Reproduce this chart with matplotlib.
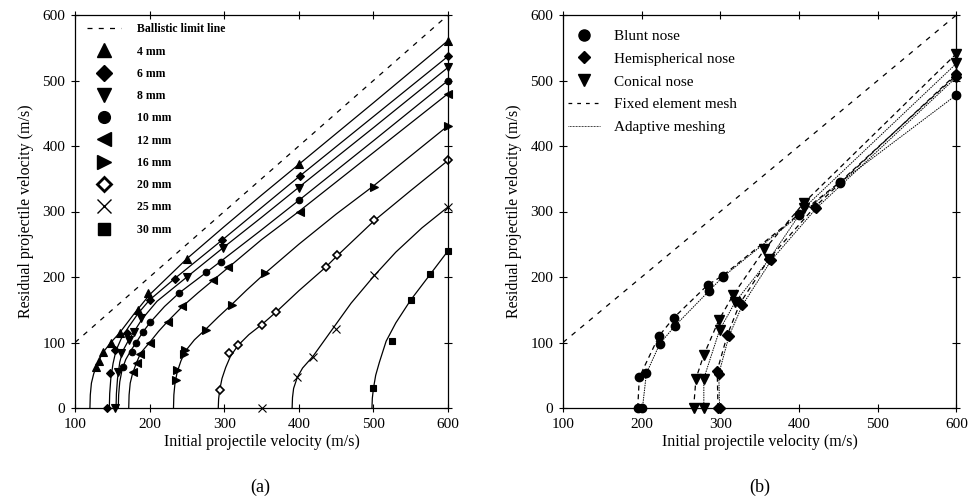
import numpy as np
import matplotlib
matplotlib.use("Agg")
import matplotlib.pyplot as plt
from matplotlib.lines import Line2D

plt.rcParams['font.family'] = ['Liberation Serif', 'DejaVu Serif']

# ---- (a) plate thickness, markers
labels_a = ['4 mm', '6 mm', '8 mm', '10 mm', '12 mm', '16 mm', '20 mm', '25 mm', '30 mm']

m4_x = [128, 132, 137, 148, 160, 184, 198, 250, 400, 600]
m4_y = [63, 72, 85, 100, 114, 150, 175, 227, 372, 560]
m6_x = [143, 147, 154, 170, 200, 234, 297, 401, 600]
m6_y = [0, 53, 88, 115, 165, 197, 257, 354, 537]
m8_x = [153, 157, 162, 172, 179, 189, 250, 298, 400, 600]
m8_y = [0, 55, 84, 104, 116, 137, 200, 244, 336, 520]
m10_x = [165, 176, 182, 191, 201, 240, 276, 296, 400, 600]
m10_y = [62, 85, 100, 116, 132, 176, 207, 223, 317, 500]
m12_x = [178, 183, 187, 200, 224, 244, 285, 305, 401, 600]
m12_y = [55, 68, 83, 100, 132, 155, 195, 215, 300, 480]
m16_x = [235, 237, 246, 248, 275, 310, 355, 501, 600]
m16_y = [43, 58, 82, 88, 119, 158, 206, 338, 430]
m20_x = [294, 306, 318, 351, 370, 436, 451, 501, 600]
m20_y = [28, 84, 96, 127, 147, 216, 234, 287, 378]
m25_x = [350, 398, 419, 450, 501, 600]
m25_y = [0, 47, 78, 121, 203, 307]
m30_x = [500, 525, 550, 576, 600]
m30_y = [30, 102, 165, 204, 240]

# fitted curves, points
c4_x = [120, 120.5, 122, 125, 130, 137, 148, 160, 180, 200, 250, 300, 350, 400, 500, 600]
c4_y = [0, 20, 38, 52, 68, 84, 100, 115, 145, 173, 228, 277, 325, 372, 466, 561]
c6_x = [146, 146.5, 148, 151, 155, 162, 172, 185, 200, 234, 260, 300, 350, 400, 500, 600]
c6_y = [0, 22, 45, 68, 88, 106, 124, 145, 165, 198, 222, 259, 306, 353, 445, 537]
c8_x = [155, 155.5, 157, 160, 164, 172, 180, 190, 210, 250, 300, 350, 400, 500, 600]
c8_y = [0, 22, 45, 70, 87, 104, 118, 136, 163, 200, 246, 291, 337, 428, 520]
c10_x = [158, 158.5, 160, 163, 168, 175, 182, 191, 201, 220, 240, 276, 300, 350, 400, 500, 600]
c10_y = [0, 20, 40, 58, 74, 88, 100, 116, 131, 155, 176, 207, 228, 272, 317, 408, 500]
c12_x = [172, 172.5, 174, 177, 182, 188, 200, 212, 224, 244, 265, 285, 305, 350, 400, 500, 600]
c12_y = [0, 20, 38, 52, 68, 84, 100, 117, 132, 155, 176, 195, 214, 257, 300, 390, 480]
c16_x = [232, 232.5, 234, 237, 242, 248, 260, 275, 292, 310, 330, 355, 400, 450, 500, 550, 600]
c16_y = [0, 20, 38, 55, 72, 87, 104, 120, 139, 158, 180, 206, 250, 296, 339, 385, 431]
c20_x = [292, 292.5, 294, 297, 302, 308, 318, 333, 351, 370, 400, 436, 451, 501, 550, 600]
c20_y = [0, 14, 28, 45, 62, 78, 95, 112, 128, 147, 179, 215, 232, 286, 332, 378]
c25_x = [391, 391.5, 393, 398, 405, 419, 441, 470, 501, 530, 565, 600]
c25_y = [0, 16, 30, 47, 61, 79, 114, 160, 202, 238, 275, 307]
c30_x = [498, 498.5, 500, 503, 508, 517, 530, 550, 576, 600]
c30_y = [0, 15, 30, 50, 70, 102, 130, 165, 204, 240]

# ---- (b) nose shapes, fixed mesh / adaptive meshing
blunt_fix_x = [195, 197, 222, 241, 284, 303, 400, 452, 600]
blunt_fix_y = [0, 47, 110, 138, 188, 202, 296, 345, 508]
blunt_ada_x = [201, 206, 223, 242, 285, 303, 400, 452, 600]
blunt_ada_y = [0, 53, 98, 125, 178, 200, 294, 344, 478]
hemi_fix_x = [297, 296, 309, 325, 362, 420, 600]
hemi_fix_y = [0, 57, 112, 160, 228, 307, 510]
hemi_ada_x = [299, 298, 311, 328, 365, 422, 600]
hemi_ada_y = [0, 52, 110, 157, 226, 305, 505]
cone_fix_x = [266, 269, 279, 298, 316, 356, 406, 600]
cone_fix_y = [0, 45, 81, 134, 172, 242, 313, 541]
cone_ada_x = [279, 279, 299, 319, 362, 406, 600]
cone_ada_y = [0, 45, 119, 162, 227, 305, 526]

limit_x = [100, 600]
limit_y = [100, 600]

fig = plt.figure(figsize=(9.69, 5.0), dpi=100)
ax1 = fig.add_axes([0.0774, 0.184, 0.385, 0.786])
ax2 = fig.add_axes([0.581, 0.184, 0.406, 0.786])

lw = 0.9
ms = 5.5
ax1.plot(limit_x, limit_y, color='k', lw=lw, linestyle=(0, (4, 5)))
curves = [(c4_x, c4_y), (c6_x, c6_y), (c8_x, c8_y), (c10_x, c10_y), (c12_x, c12_y),
          (c16_x, c16_y), (c20_x, c20_y), (c25_x, c25_y), (c30_x, c30_y)]
for cx, cy in curves:
    ax1.plot(cx, cy, color='k', lw=lw)

mk = [(m4_x, m4_y, '^', 'k', ms), (m6_x, m6_y, 'D', 'k', ms - 1.2), (m8_x, m8_y, 'v', 'k', ms),
      (m10_x, m10_y, 'o', 'k', ms - 0.8), (m12_x, m12_y, '<', 'k', ms), (m16_x, m16_y, '>', 'k', ms),
      (m20_x, m20_y, 'D', 'w', ms - 1.4), (m25_x, m25_y, 'x', 'k', ms), (m30_x, m30_y, 's', 'k', ms - 1)]
for (x, y, m, fc, s) in mk:
    ax1.plot(x, y, linestyle='none', marker=m, markersize=s, markerfacecolor=fc,
             markeredgecolor='k', markeredgewidth=1.2 if fc == 'w' else 0.8, clip_on=False)

handles_a = [Line2D([], [], color='k', lw=lw, linestyle=(0, (4, 5)))]
for (x, y, m, fc, s) in mk:
    handles_a.append(Line2D([], [], linestyle='none', marker=m, markersize=s * 1.8,
                            markerfacecolor=fc, markeredgecolor='k',
                            markeredgewidth=2.0 if fc == 'w' else 1.0))
leg1 = ax1.legend(handles_a, ['Ballistic limit line'] + labels_a, loc='upper left',
                  bbox_to_anchor=(0.01, 1.0), frameon=False, prop={'size': 8.5, 'weight': 'bold'},
                  labelspacing=0.87, handlelength=2.9, handletextpad=1.3, borderaxespad=0.3)

# right panel
ax2.plot(limit_x, limit_y, color='k', lw=lw, linestyle=(0, (4, 5)))
fix_ls = (0, (4, 3))
ada_ls = (0, (1.5, 1))
ms2 = 6
ax2.plot(blunt_fix_x, blunt_fix_y, color='k', lw=lw, linestyle=fix_ls, marker='o', markersize=ms2, clip_on=False)
ax2.plot(blunt_ada_x, blunt_ada_y, color='k', lw=0.7, linestyle=ada_ls, marker='o', markersize=ms2, clip_on=False)
ax2.plot(hemi_fix_x, hemi_fix_y, color='k', lw=lw, linestyle=fix_ls, marker='D', markersize=ms2 - 1.2, clip_on=False)
ax2.plot(hemi_ada_x, hemi_ada_y, color='k', lw=0.7, linestyle=ada_ls, marker='D', markersize=ms2 - 1.2, clip_on=False)
ax2.plot(cone_fix_x, cone_fix_y, color='k', lw=lw, linestyle=fix_ls, marker='v', markersize=ms2 + 0.5, clip_on=False)
ax2.plot(cone_ada_x, cone_ada_y, color='k', lw=0.7, linestyle=ada_ls, marker='v', markersize=ms2 + 0.5, clip_on=False)

handles_b = [Line2D([], [], linestyle='none', marker='o', color='k', markersize=8),
             Line2D([], [], linestyle='none', marker='D', color='k', markersize=6.5),
             Line2D([], [], linestyle='none', marker='v', color='k', markersize=8),
             Line2D([], [], color='k', lw=lw, linestyle=(0, (3, 4))),
             Line2D([], [], color='k', lw=0.6, linestyle=(0, (1, 0.8)))]
labels_b = ['Blunt nose', 'Hemispherical nose', 'Conical nose', 'Fixed element mesh', 'Adaptive meshing']
ax2.legend(handles_b, labels_b, loc='upper left', bbox_to_anchor=(-0.018, 0.995), frameon=False,
           prop={'size': 11}, labelspacing=0.6, handlelength=2.1, handletextpad=0.9,
           borderaxespad=0.4)

for ax in (ax1, ax2):
    ax.set_xlim(100, 600)
    ax.set_ylim(0, 600)
    ax.set_xticks([100, 200, 300, 400, 500, 600])
    ax.set_yticks([0, 100, 200, 300, 400, 500, 600])
    ax.tick_params(direction='inout', length=6, width=0.8, top=True, right=True,
                   labelsize=11, pad=4)
    for s in ax.spines.values():
        s.set_linewidth(0.9)
    ax.set_xlabel('Initial projectile velocity (m/s)', fontsize=11.5, labelpad=2)
    ax.set_ylabel('Residual projectile velocity (m/s)', fontsize=11.5, labelpad=6)

fig.text(0.2685, 0.025, '(a)', ha='center', va='center', fontsize=13)
fig.text(0.784, 0.025, '(b)', ha='center', va='center', fontsize=13)

fig.savefig('out.png', dpi=100)
